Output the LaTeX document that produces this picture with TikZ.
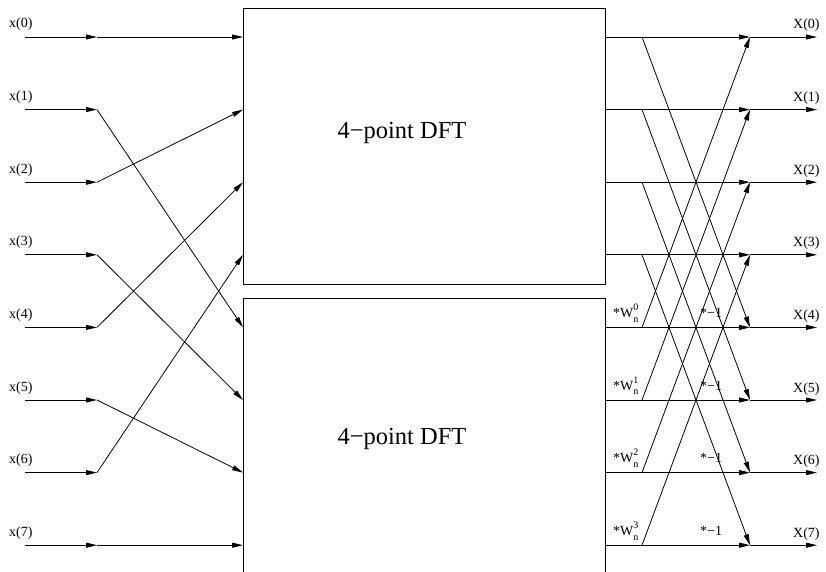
\documentclass[tikz,border=0pt]{standalone}
\usepackage{fontspec}
\setmainfont{Liberation Serif}
\usetikzlibrary{arrows.meta,calc}
\newcommand{\twf}[2]{*W\rlap{\raisebox{0.5em}{\fontsize{10}{10}\selectfont #1}}\raisebox{-0.35em}{\fontsize{10}{10}\selectfont #2}}
\begin{document}
\begin{tikzpicture}[x=1pt,y=-1pt,
  conn/.style={line width=0.8pt},
  arr/.style={conn,-{Triangle[length=11pt,width=5pt]}},
  lbl/.style={font=\fontsize{14}{14}\selectfont, inner sep=0pt},
  big/.style={font=\fontsize{24.5}{25}\selectfont, inner sep=0pt},
  dftbox/.style={draw, line width=0.8pt, inner sep=0pt, anchor=north west}]
\useasboundingbox (0,0) rectangle (826,572);
\clip (0,0) rectangle (826,572);
% points on each row
\foreach \k in {0,...,7}{
  \pgfmathsetmacro{\yy}{37+72.6*\k}
  \coordinate (L\k) at (25,\yy);
  \coordinate (M\k) at (97,\yy);
  \coordinate (I\k) at (243,\yy);
  \coordinate (O\k) at (605,\yy);
  \coordinate (B\k) at (642,\yy);
  \coordinate (A\k) at (750,\yy);
  \coordinate (E\k) at (817,\yy);
}
% boxes
\node[dftbox, minimum width=362pt, minimum height=276pt] (U) at (243,8) {};
\node[dftbox, minimum width=362pt, minimum height=300pt] (D) at (243,298) {};
\node[big, anchor=base] (ut) at (402,139) {4−point DFT};
\node[big, anchor=base] (dt) at (402,444) {4−point DFT};
% inputs
\foreach \k in {0,...,7}{
  \node[lbl, anchor=base west] (xl\k) at ($(L\k)+(-16,-9)$) {x(\k)};
  \draw[arr] (L\k) -- (M\k);
}
\draw[arr] (M0) -- (I0);
\draw[arr] (M1) -- (I4);
\draw[arr] (M2) -- (I1);
\draw[arr] (M3) -- (I5);
\draw[arr] (M4) -- (I2);
\draw[arr] (M5) -- (I6);
\draw[arr] (M6) -- (I3);
\draw[arr] (M7) -- (I7);
% outputs
\foreach \k in {0,...,7}{
  \draw[arr] (O\k) -- (A\k);
  \draw[arr] (A\k) -- (E\k);
  \node[lbl, anchor=base west] (Xl\k) at ($(E\k)+(-24,-8)$) {X(\k)};
}
\foreach \k in {0,...,3}{
  \pgfmathtruncatemacro{\j}{\k+4}
  \draw[arr] (B\k) -- (A\j);
  \draw[arr] (B\j) -- (A\k);
  \node[lbl, anchor=base west] (w\k) at ($(O\j)+(8,-10)$) {\twf{\k}{n}};
  \node[lbl, anchor=base west] (m\k) at ($(O\j)+(95,-10)$) {*−1};
}
\end{tikzpicture}
\end{document}
